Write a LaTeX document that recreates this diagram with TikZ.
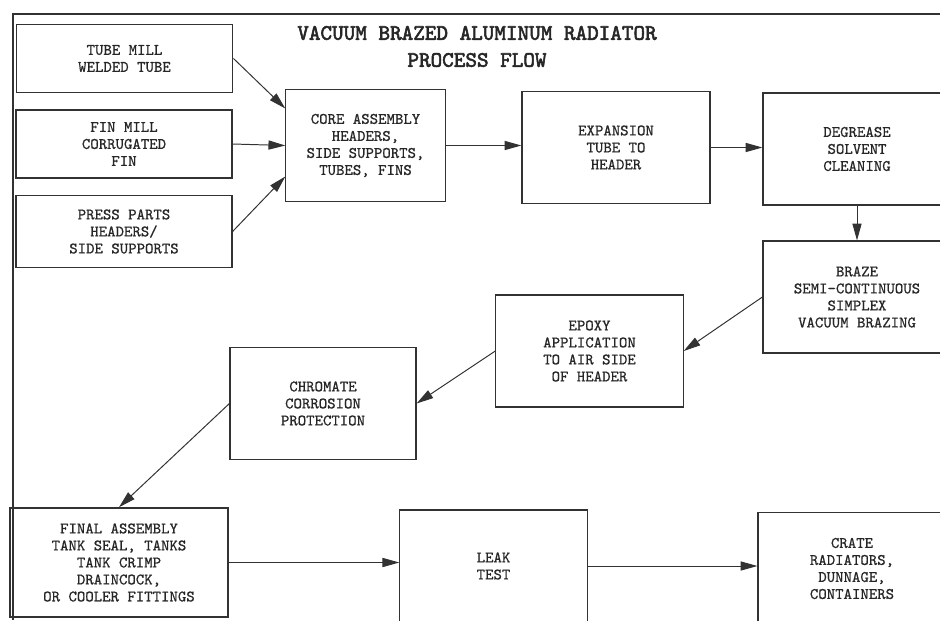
\documentclass[tikz,border=0pt]{standalone}
\usepackage{fontspec}
\newfontfamily\titlefont[FakeBold=2.5]{lmmono10-regular.otf}
\newfontfamily\boxfont[FakeBold=0.7]{lmmono10-regular.otf}
\usetikzlibrary{arrows.meta,calc}
\usepackage{xcolor}
\definecolor{scanink}{RGB}{50,50,50}

\begin{document}
\begin{tikzpicture}[x=0.025cm,y=-0.025cm,>={Triangle[length=12pt,width=6.5pt]},
  stage/.style={draw=scanink,line width=0.8pt,align=center,inner sep=0pt,text=black!85,
    font=\fontsize{11.4}{12.1}\selectfont\boxfont},
  flow/.style={->,draw=scanink,line width=0.7pt}]
    \clip (0,0) rectangle (940,620);
    \fill[white] (0,0) rectangle (940,620);

    % Frame
    \draw[scanink,line width=1.5pt] (940,14)--(13,14)--(13,620);

    % Title
    \node[align=center,text=black!85,font=\titlefont\fontsize{15.7}{19.2}\selectfont] (title) at (477,46.5)
        {VACUUM BRAZED ALUMINUM RADIATOR\\PROCESS FLOW};

    % Inputs
    \node[stage,minimum width=5.42cm,minimum height=1.72cm] (tubemill) at (124.5,58.5) {TUBE MILL\\WELDED TUBE};
    \node[stage,minimum width=5.4cm,minimum height=1.7cm] (finmill) at (124,144) {FIN MILL\\CORRUGATED\\FIN};
    \node[stage,minimum width=5.4cm,minimum height=1.78cm] (pressparts) at (124,231.5) {PRESS PARTS\\HEADERS/\\SIDE SUPPORTS};

    % Top row
    \node[stage,minimum width=3.98cm,minimum height=2.78cm] (core) at (365.5,145.5) {CORE ASSEMBLY\\HEADERS,\\SIDE SUPPORTS,\\TUBES, FINS};
    \node[stage,minimum width=4.7cm,minimum height=2.78cm] (expansion) at (616,147.5) {EXPANSION\\TUBE TO\\HEADER};
    \node[stage,minimum width=4.7cm,minimum height=2.8cm] (degrease) at (857,149) {DEGREASE\\SOLVENT\\CLEANING};

    % Middle row
    \node[stage,minimum width=4.7cm,minimum height=2.8cm] (braze) at (857,297) {BRAZE\\SEMI-CONTINUOUS\\SIMPLEX\\VACUUM BRAZING};
    \node[stage,minimum width=4.68cm,minimum height=2.8cm] (epoxy) at (589.5,351) {EPOXY\\APPLICATION\\TO AIR SIDE\\OF HEADER};
    \node[stage,minimum width=4.65cm,minimum height=2.78cm] (chromate) at (323,403.5) {CHROMATE\\CORROSION\\PROTECTION};

    % Bottom row
    \node[stage,line width=1.2pt,minimum width=5.45cm,minimum height=2.72cm] (final) at (119,562.5) {FINAL ASSEMBLY\\TANK SEAL, TANKS\\TANK CRIMP\\DRAINCOCK,\\OR COOLER FITTINGS};
    \node[stage,minimum width=4.68cm,minimum height=2.8cm] (leak) at (493.5,566) {LEAK\\TEST};
    \node[stage,minimum width=4.7cm,minimum height=2.78cm] (crate) at (852,568.5) {CRATE\\RADIATORS,\\DUNNAGE,\\CONTAINERS};

    % Arrows
    \draw[flow] (tubemill.east) -- ($(core.west)+(0,-37)$);
    \draw[flow] (finmill.east) -- (core.west);
    \draw[flow] (pressparts.east) -- ($(core.west)+(0,31)$);
    \draw[flow] (core.east) -- (core.east -| expansion.west);
    \draw[flow] (expansion.east) -- (expansion.east -| degrease.west);
    \draw[flow] (degrease.south) -- (braze.north);
    \draw[flow] (braze.west) -- (epoxy.east);
    \draw[flow] (epoxy.west) -- (chromate.east);
    \draw[flow] (chromate.west) -- (final.north);
    \draw[flow] (final.east) -- (final.east -| leak.west);
    \draw[flow] (leak.east) -- (leak.east -| crate.west);
\end{tikzpicture}
\end{document}
